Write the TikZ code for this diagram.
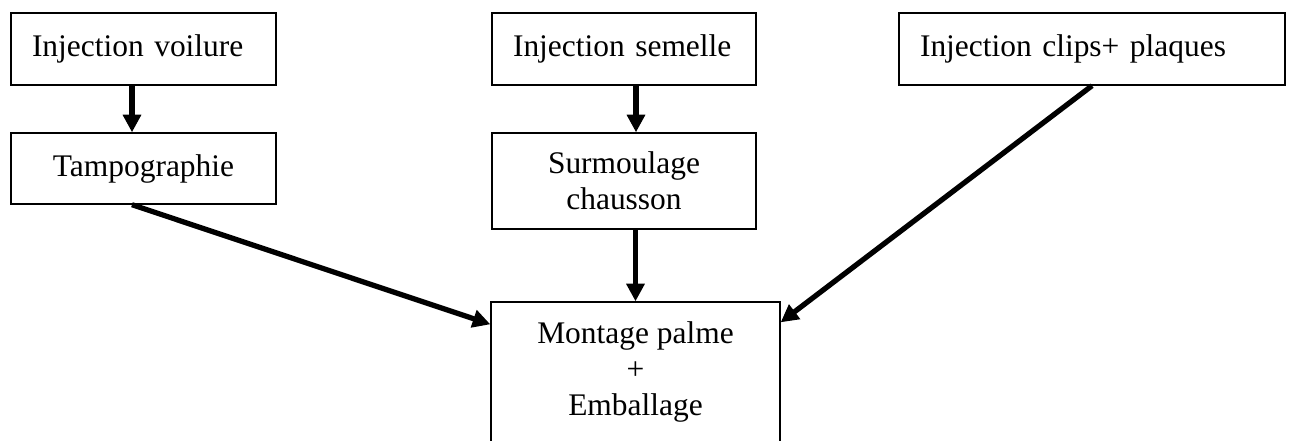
\documentclass[tikz,border=0pt]{standalone}
\usepackage{fontspec}
\setmainfont{Liberation Serif}
\usetikzlibrary{arrows.meta}

\begin{document}
\begin{tikzpicture}[x=0.02cm,y=-0.02cm,
    font=\fontsize{17.9pt}{20.7pt}\selectfont,
    box/.style={draw,line width=0.8pt,inner sep=0pt,align=center},
    topbox/.style={draw,line width=0.8pt,inner ysep=0pt,inner xsep=0.42cm,align=left,minimum height=1.44cm},
    flow/.style={line width=3pt,-{Triangle[length=10pt,width=10pt]}}]
      \useasboundingbox (0,0) rectangle (1291,440);

      \node[topbox,text width=4.46cm] (voil) at (143.5,49) {Injection voilure};
      \node[topbox,text width=4.44cm] (sem) at (624,49) {Injection semelle};
      \node[topbox,text width=6.88cm] (clips) at (1092,49) {Injection clips+ plaques};

      \node[box,minimum width=5.3cm,minimum height=1.42cm] (tampo) at (143.5,168.5) {Tampographie};
      \node[box,minimum width=5.28cm,minimum height=1.92cm] (surm) at (624,181) {Surmoulage\\chausson};
      \node[box,minimum width=5.78cm,minimum height=2.8cm] (mont) at (635.5,372) {Montage palme\\+\\Emballage};

      \draw[flow] ([xshift=-0.23cm]voil.south) -- ([xshift=-0.23cm]tampo.north);
      \draw[flow] ([xshift=0.24cm]sem.south) -- ([xshift=0.24cm]surm.north);
      \draw[flow] (surm.south -| mont.north) -- (mont.north);
      \draw[flow] ([xshift=-0.23cm]tampo.south) -- ([yshift=-0.46cm]mont.north west);
      \draw[flow] (clips.south) -- ([yshift=-0.42cm]mont.north east);
\end{tikzpicture}
\end{document}
